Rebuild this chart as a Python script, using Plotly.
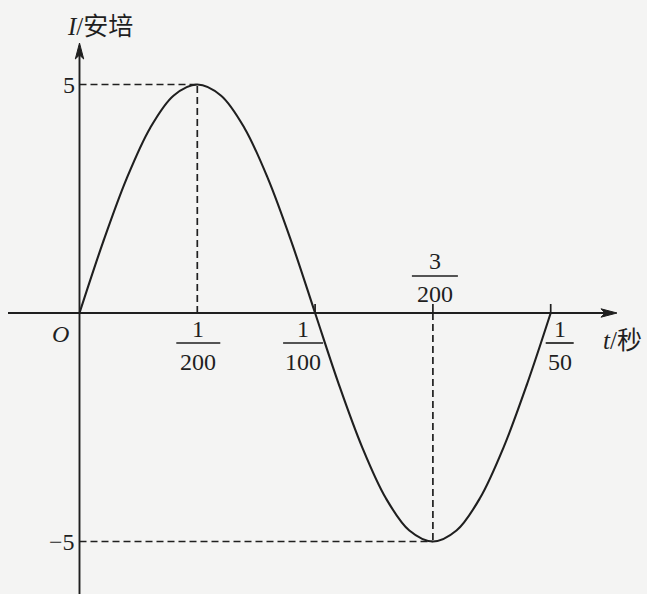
import plotly.graph_objects as go

# Alternating current I (A) against time t (s) over one full period
t_values = [0.000, 0.001, 0.002, 0.003, 0.004, 0.005, 0.006, 0.007, 0.008, 0.009, 0.010,
            0.011, 0.012, 0.013, 0.014, 0.015, 0.016, 0.017, 0.018, 0.019, 0.020]
i_values = [0.00, 1.55, 2.94, 4.05, 4.76, 5.00, 4.76, 4.05, 2.94, 1.55, 0.00,
            -1.55, -2.94, -4.05, -4.76, -5.00, -4.76, -4.05, -2.94, -1.55, 0.00]

# Marked time instants (fractions of a second) and current extremes
tick_t = [1 / 200, 1 / 100, 3 / 200, 1 / 50]
tick_num = ["1", "1", "3", "1"]
tick_den = ["200", "100", "200", "50"]
peak_t, peak_i = 1 / 200, 5
trough_t, trough_i = 3 / 200, -5
y_labels = ["5", "\u22125"]

x_title = "<i>t</i>/秒"
y_title = "<i>I</i>/安培"

W, H = 647, 594
INK = "#1f1f1f"
FONT = "Liberation Serif, Noto Sans CJK SC, serif"

# Axis geometry (pixels)
ORIGIN_PX_X, ORIGIN_PX_Y = 79.5, 313
PX_PER_T = 117.8 / 0.005
PX_PER_I = 45.7

x_min = -ORIGIN_PX_X / PX_PER_T
x_max = x_min + W / PX_PER_T
y_max = ORIGIN_PX_Y / PX_PER_I
y_min = y_max - H / PX_PER_I

t_axis_end = x_min + 617 / PX_PER_T
t_axis_start = x_min + 8 / PX_PER_T
i_axis_end = (ORIGIN_PX_Y - 43) / PX_PER_I

fig = go.Figure()

fig.add_trace(go.Scatter(
    x=t_values, y=i_values, mode="lines",
    line=dict(color=INK, width=2.1, shape="spline", smoothing=1.0),
    hoverinfo="skip", showlegend=False,
))

shapes = []
# axes
shapes.append(dict(type="line", x0=t_axis_start, x1=t_axis_end - 10 / PX_PER_T, y0=0, y1=0,
                   line=dict(color=INK, width=1.9)))
shapes.append(dict(type="line", x0=0, x1=0, y0=y_min - 1, y1=i_axis_end - 10 / PX_PER_I,
                   line=dict(color=INK, width=1.9)))
# arrow heads (pixel-sized, anchored at the axis tips)
shapes.append(dict(type="path", xsizemode="pixel", ysizemode="pixel",
                   xanchor=t_axis_end, yanchor=0,
                   path="M 0 0 L -16 4.2 L -12 0 L -16 -4.2 Z",
                   fillcolor=INK, line=dict(color=INK, width=1)))
shapes.append(dict(type="path", xsizemode="pixel", ysizemode="pixel",
                   xanchor=0, yanchor=i_axis_end,
                   path="M 0 0 L -4.2 -16 L 0 -12 L 4.2 -16 Z",
                   fillcolor=INK, line=dict(color=INK, width=1)))

dash = dict(color=INK, width=1.7, dash="7px,4px")
# guide lines to the maximum and minimum
shapes.append(dict(type="line", x0=0, x1=peak_t, y0=peak_i, y1=peak_i, line=dash))
shapes.append(dict(type="line", x0=peak_t, x1=peak_t, y0=0, y1=peak_i, line=dash))
shapes.append(dict(type="line", x0=0, x1=trough_t, y0=trough_i, y1=trough_i, line=dash))
shapes.append(dict(type="line", x0=trough_t, x1=trough_t, y0=0, y1=trough_i, line=dash))

# small tick marks above the time axis
for tv in tick_t[1:]:
    shapes.append(dict(type="line", xsizemode="pixel", ysizemode="pixel",
                       xanchor=tv, yanchor=0, x0=0, x1=0, y0=0, y1=9,
                       line=dict(color=INK, width=1.7)))

annotations = []
txt = dict(family=FONT, size=24, color=INK)

# fraction labels: (x offset, above axis?, half bar width)
frac_layout = [(1, False, 22), (-12, False, 20), (2, True, 23), (9, False, 14)]
for tv, num, den, (dx, above, half) in zip(tick_t, tick_num, tick_den, frac_layout):
    if above:
        num_y, bar_y, den_y = 52, 37, 19
    else:
        num_y, bar_y, den_y = -16, -30, -49
    annotations.append(dict(x=tv, y=0, text=num, showarrow=False, xshift=dx, yshift=num_y,
                            xanchor="center", yanchor="middle", font=txt))
    annotations.append(dict(x=tv, y=0, text=den, showarrow=False, xshift=dx, yshift=den_y,
                            xanchor="center", yanchor="middle", font=txt))
    shapes.append(dict(type="line", xsizemode="pixel", ysizemode="pixel",
                       xanchor=tv, yanchor=0, x0=dx - half, x1=dx + half, y0=bar_y, y1=bar_y,
                       line=dict(color=INK, width=1.7)))

# origin and current values
annotations.append(dict(x=0, y=0, text="<i>O</i>", showarrow=False, xshift=-19.5, yshift=-21,
                        xanchor="center", yanchor="middle", font=txt))
annotations.append(dict(x=0, y=peak_i, text=y_labels[0], showarrow=False, xshift=-3,
                        xanchor="right", yanchor="middle", font=txt))
annotations.append(dict(x=0, y=trough_i, text=y_labels[1], showarrow=False, xshift=-3,
                        xanchor="right", yanchor="middle", font=txt))

# axis titles
annotations.append(dict(x=t_axis_end, y=0, text=x_title, showarrow=False, xshift=-16, yshift=-27,
                        xanchor="left", yanchor="middle",
                        font=dict(family=FONT, size=25, color=INK)))
annotations.append(dict(x=0, y=i_axis_end, text=y_title, showarrow=False, xshift=-15, yshift=17,
                        xanchor="left", yanchor="middle",
                        font=dict(family=FONT, size=25, color=INK)))

fig.update_layout(
    width=W, height=H,
    margin=dict(l=0, r=0, t=0, b=0),
    paper_bgcolor="#f4f4f3", plot_bgcolor="#f4f4f3",
    xaxis=dict(range=[x_min, x_max], visible=False, fixedrange=True),
    yaxis=dict(range=[y_min, y_max], visible=False, fixedrange=True),
    shapes=shapes, annotations=annotations,
    showlegend=False,
)

fig.write_html("out.html")
